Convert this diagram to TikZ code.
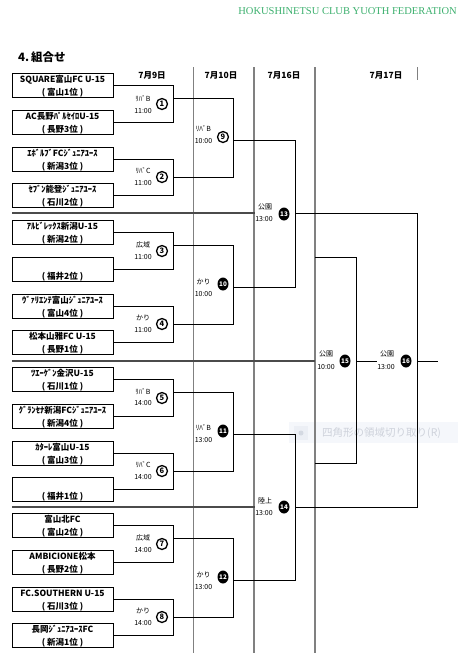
\documentclass[tikz,border=0pt]{standalone}
\usepackage{fontspec}
\setmainfont{Noto Sans CJK JP}
\newfontfamily\serifen{Liberation Serif}
\usetikzlibrary{shapes.geometric}
\definecolor{hdrgreen}{RGB}{60,176,110}
\definecolor{colgray}{RGB}{128,128,128}
\definecolor{sepgray}{RGB}{75,75,75}
\definecolor{tipfill}{RGB}{245,247,251}
\definecolor{tipsq}{RGB}{236,239,245}
\definecolor{tipdot}{RGB}{212,217,226}
\definecolor{tiptext}{RGB}{206,210,219}
\tikzset{
  teambox/.style={draw, line width=1pt, minimum width=101pt, minimum height=24.5pt, inner sep=0pt},
  teamtxt/.style={anchor=base, inner sep=0pt, font=\bfseries\fontsize{8.5}{10}\selectfont},
  lbl/.style={inner sep=0pt, font=\fontsize{7}{8}\selectfont},
  hdr/.style={inner sep=0pt, font=\bfseries\fontsize{8.5}{10}\selectfont},
  rnd/.style={circle, draw, line width=1.3pt, inner sep=0pt, minimum size=11pt, font=\bfseries\fontsize{7.5}{7.5}\selectfont},
  rndb/.style={ellipse, fill=black, text=white, inner sep=0pt, minimum width=11pt, minimum height=13pt, font=\bfseries\fontsize{6.3}{6.3}\selectfont},
  brk/.style={line width=1pt, black},
  colthin/.style={line width=0.8pt, colgray},
  colmid/.style={line width=1.6pt, colgray},
  colthick/.style={line width=2pt, colgray},
  sepline/.style={line width=2pt, sepgray}
}
\newcommand\mkteam[4]{%
  \node[teambox] (#1) at (62.5,#2+12.25) {};
  \node[teamtxt] (#1a) at (62.5,#2+9.8) {#3};
  \node[teamtxt] (#1b) at (62.5,#2+22.0) {#4};
}
\begin{document}
\begin{tikzpicture}[x=1pt,y=-1pt]
\useasboundingbox (0,0) rectangle (462,665);
\fill[white] (0,0) rectangle (462,665);

% faint screen tooltip (behind the lines)
\fill[tipfill] (289,422) rectangle (458,443);
\fill[tipsq] (294,426) rectangle (308,440);
\fill[tipdot] (301,433) circle (2.5);
\node[anchor=west, inner sep=0pt, text=tiptext, font=\fontsize{10.5}{12}\selectfont] (tip) at (322,433) {四角形の領域切り取り(R)};

% header texts
\node[anchor=east, inner sep=0pt, text=hdrgreen, font=\serifen\fontsize{10.5}{12}\selectfont] (org) at (457,11) {HOKUSHINETSU CLUB YUOTH FEDERATION};
\node[anchor=west, inner sep=0pt, font=\bfseries\fontsize{11.5}{13}\selectfont] (title) at (18,57) {4.\,組合せ};

% column lines
\draw[colthin] (193,67) -- (193,653);
\draw[colmid] (254,67) -- (254,653);
\draw[colthick] (315,67) -- (315,653);
\draw[colthin] (417,67) -- (417,80);

\node[hdr] (h1) at (152,75) {7月9日};
\node[hdr] (h2) at (221,75) {7月10日};
\node[hdr] (h3) at (284,75) {7月16日};
\node[hdr] (h4) at (386,75) {7月17日};

% separators
\draw[sepline] (12,213) -- (255,213);
\draw[sepline] (12,361) -- (315,361);
\draw[sepline] (12,507) -- (255,507);

% ---- block A
\mkteam{a1}{73}{SQUARE富山FC U-15}{( 富山1位 )}
\mkteam{a2}{110}{AC長野ﾊﾟﾙｾｲﾛU-15}{( 長野3位 )}
\mkteam{a3}{147}{ｴﾎﾞﾙﾌﾞFCｼﾞｭﾆｱﾕｰｽ}{( 新潟3位 )}
\mkteam{a4}{183}{ｾﾌﾞﾝ能登ｼﾞｭﾆｱﾕｰｽ}{( 石川2位 )}
\draw[brk] (a1.east) -| ([xshift=60pt]a2.east) -- (a2.east);
\draw[brk] (a3.east) -| ([xshift=60pt]a4.east) -- (a4.east);
\coordinate (oa1) at (173,98); \coordinate (oa2) at (173,177);
\draw[brk] (oa1) -| ([xshift=60pt]oa2) -- (oa2);
\coordinate (qa) at (233,140);
\node[lbl] (la1) at (143,99) {ﾘﾊﾞB}; \node[lbl] (ta1) at (143,111) {11:00};
\node[rnd] (m1) at (162,104) {1};
\node[lbl] (la2) at (143,171) {ﾘﾊﾞC}; \node[lbl] (ta2) at (143,183) {11:00};
\node[rnd] (m2) at (162,177) {2};
\node[lbl] (l9) at (203.5,129) {ﾘﾊﾞB}; \node[lbl] (t9) at (203.5,141) {10:00};
\node[rnd] (m9) at (223,137) {9};

% ---- block B
\mkteam{b1}{220}{ｱﾙﾋﾞﾚｯｸｽ新潟U-15}{( 新潟2位 )}
\mkteam{b2}{257}{}{( 福井2位 )}
\mkteam{b3}{294}{ｳﾞｧﾘｴﾝﾃ富山ｼﾞｭﾆｱﾕｰｽ}{( 富山4位 )}
\mkteam{b4}{330}{松本山雅FC U-15}{( 長野1位 )}
\draw[brk] (b1.east) -| ([xshift=60pt]b2.east) -- (b2.east);
\draw[brk] (b3.east) -| ([xshift=60pt]b4.east) -- (b4.east);
\coordinate (ob1) at (173,245); \coordinate (ob2) at (173,324);
\draw[brk] (ob1) -| ([xshift=60pt]ob2) -- (ob2);
\coordinate (qb) at (233,287);
\node[lbl] (lb1) at (143,245) {広域}; \node[lbl] (tb1) at (143,257) {11:00};
\node[rnd] (m3) at (162,251) {3};
\node[lbl] (lb2) at (143,318) {かり}; \node[lbl] (tb2) at (143,330) {11:00};
\node[rnd] (m4) at (162,324) {4};
\node[lbl] (l10) at (203.5,282) {かり}; \node[lbl] (t10) at (203.5,294) {10:00};
\node[rndb] (m10) at (223,284) {10};

% ---- block C
\mkteam{c1}{367}{ﾂｴｰｹﾞﾝ金沢U-15}{( 石川1位 )}
\mkteam{c2}{404}{ｸﾞﾗﾝｾﾅ新潟FCｼﾞｭﾆｱﾕｰｽ}{( 新潟4位 )}
\mkteam{c3}{441}{ｶﾀｰﾚ富山U-15}{( 富山3位 )}
\mkteam{c4}{477}{}{( 福井1位 )}
\draw[brk] (c1.east) -| ([xshift=60pt]c2.east) -- (c2.east);
\draw[brk] (c3.east) -| ([xshift=60pt]c4.east) -- (c4.east);
\coordinate (oc1) at (173,392); \coordinate (oc2) at (173,471);
\draw[brk] (oc1) -| ([xshift=60pt]oc2) -- (oc2);
\coordinate (qc) at (233,434);
\node[lbl] (lc1) at (143,392) {ﾘﾊﾞB}; \node[lbl] (tc1) at (143,403) {14:00};
\node[rnd] (m5) at (162,398) {5};
\node[lbl] (lc2) at (143,465) {ﾘﾊﾞC}; \node[lbl] (tc2) at (143,477) {14:00};
\node[rnd] (m6) at (162,471) {6};
\node[lbl] (l11) at (203.5,428) {ﾘﾊﾞB}; \node[lbl] (t11) at (203.5,440) {13:00};
\node[rndb] (m11) at (223,431) {11};

% ---- block D
\mkteam{d1}{513}{富山北FC}{( 富山2位 )}
\mkteam{d2}{550}{AMBICIONE松本}{( 長野2位 )}
\mkteam{d3}{587}{FC.SOUTHERN U-15}{( 石川3位 )}
\mkteam{d4}{623}{長岡ｼﾞｭﾆｱﾕｰｽFC}{( 新潟1位 )}
\draw[brk] (d1.east) -| ([xshift=60pt]d2.east) -- (d2.east);
\draw[brk] (d3.east) -| ([xshift=60pt]d4.east) -- (d4.east);
\coordinate (od1) at (173,538); \coordinate (od2) at (173,617);
\draw[brk] (od1) -| ([xshift=60pt]od2) -- (od2);
\coordinate (qd) at (233,580);
\node[lbl] (ld1) at (143,538) {広域}; \node[lbl] (td1) at (143,550) {14:00};
\node[rnd] (m7) at (162,544) {7};
\node[lbl] (ld2) at (143,611) {かり}; \node[lbl] (td2) at (143,623) {14:00};
\node[rnd] (m8) at (162,617) {8};
\node[lbl] (l12) at (203.5,575) {かり}; \node[lbl] (t12) at (203.5,587) {13:00};
\node[rndb] (m12) at (223,577) {12};

% ---- later rounds
\draw[brk] (qa) -| ([xshift=62pt]qb) -- (qb);
\draw[brk] (qc) -| ([xshift=62pt]qd) -- (qd);
\coordinate (r13) at (295,213); \coordinate (r14) at (295,507);
\draw[brk] (r13) -| ([xshift=122pt]r14) -- (r14);
\node[lbl] (l13) at (265,207) {公園}; \node[lbl] (t13) at (264,219) {13:00};
\node[rndb] (m13) at (284,214) {13};
\node[lbl] (l14) at (265,501) {陸上}; \node[lbl] (t14) at (264,513) {13:00};
\node[rndb] (m14) at (284,507) {14};

\coordinate (p1) at (315,257); \coordinate (p2) at (315,463);
\draw[brk] (p1) -| ([xshift=41pt]p2) -- (p2);
\coordinate (p15) at (356,361); \coordinate (e15) at (377,361);
\draw[brk] (p15) -- (e15);
\node[lbl] (l15) at (326,354) {公園}; \node[lbl] (t15) at (326,367) {10:00};
\node[rndb] (m15) at (345,361) {15};

\coordinate (r16) at (417,361); \coordinate (e16) at (438,361);
\draw[brk] (r16) -- (e16);
\node[lbl] (l16) at (387,354) {公園}; \node[lbl] (t16) at (386,367) {13:00};
\node[rndb] (m16) at (406,361) {16};
\end{tikzpicture}
\end{document}
